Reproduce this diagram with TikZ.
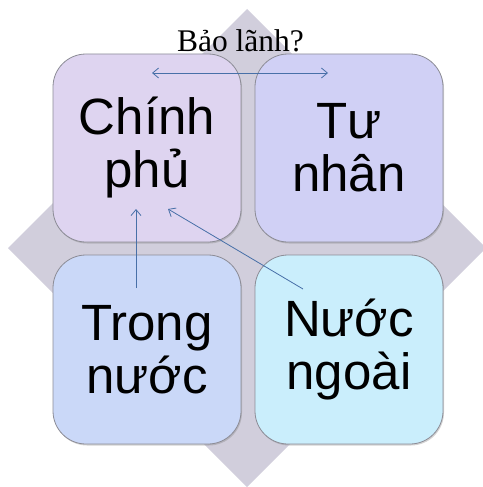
\documentclass[tikz,border=0pt]{standalone}
\usepackage{fontspec}
\setmainfont{Liberation Serif}
\newfontfamily\boxfont{Liberation Sans}
\usetikzlibrary{arrows.meta,shadows}
\definecolor{diamondc}{RGB}{209,206,220}
\definecolor{tlc}{RGB}{222,212,240}
\definecolor{trc}{RGB}{208,208,245}
\definecolor{blc}{RGB}{202,216,248}
\definecolor{brc}{RGB}{202,238,252}
\definecolor{edgec}{RGB}{140,140,150}
\definecolor{arrc}{RGB}{72,112,168}
\tikzset{
  quad/.style={draw=edgec, line width=0.8pt, rounded corners=33pt,
    drop shadow={opacity=0.35, shadow xshift=1pt, shadow yshift=-1.5pt}},
  quadtext/.style={font=\boxfont\fontsize{51}{53}\selectfont, align=center, text=black},
  tipb/.style={Straight Barb[length=6pt,width=10pt]},
  link/.style={draw=arrc, line width=0.8pt, -{Straight Barb[length=6pt,width=10pt]}},
}
\begin{document}
\begin{tikzpicture}[x=1pt,y=-1pt]
\useasboundingbox (0,0) rectangle (482,487);
% diamond
\fill[diamondc] (247,9) -- (486,248) -- (247,487) -- (8,248) -- cycle;
% boxes
\path[quad, fill=tlc] (53,54) rectangle (241,242);
\path[quad, fill=trc] (255,54) rectangle (443,242);
\path[quad, fill=blc] (53,255) rectangle (241,444);
\path[quad, fill=brc] (255,255) rectangle (443,444);
% texts
\node[quadtext] (gov) at (147,148) {Chính\\phủ};
\node[quadtext] (priv) at (349,148) {Tư\\nhân};
\node[quadtext] (dom) at (147,350) {Trong\\nước};
\node[quadtext] (for) at (349,350) {Nước\\ngoài};
\node[font=\fontsize{31.5}{34}\selectfont, inner sep=0pt, anchor=base] (guar) at (240.5,52) {Bảo lãnh?};
% connector points
\coordinate (gL) at (152,73);
\coordinate (pR) at (328,73);
\coordinate (gB1) at (136,209);
\coordinate (gB2) at (168,209);
\coordinate (dT) at (136,288);
\coordinate (fT) at (303,289);
\draw[link, {Straight Barb[length=6pt,width=10pt]}-{Straight Barb[length=6pt,width=10pt]}] (gL) -- (pR);
\draw[link] (dT) -- (gB1);
\draw[link] (fT) -- (gB2);
\end{tikzpicture}
\end{document}
